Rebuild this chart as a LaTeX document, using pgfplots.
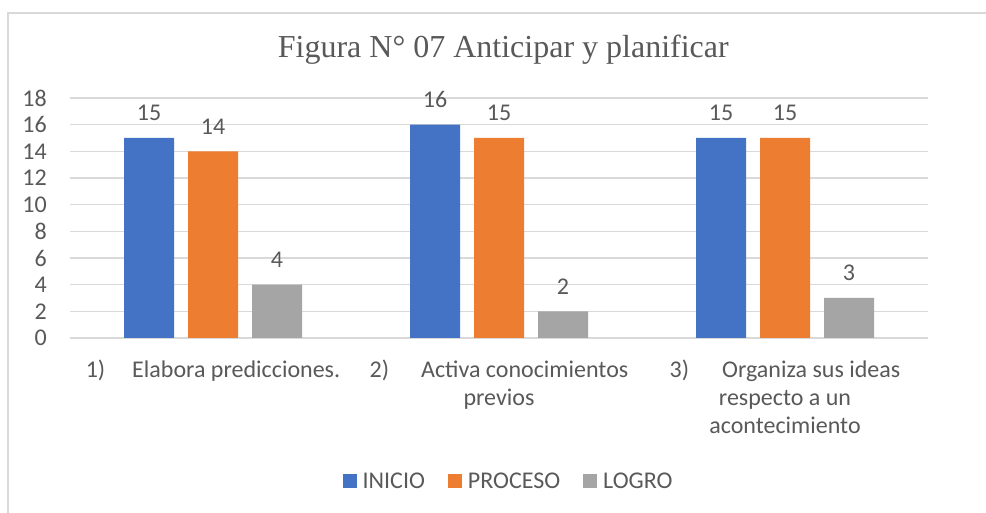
\documentclass[border=0pt]{standalone}
\usepackage{pgfplots}
\pgfplotsset{compat=1.18}
\usepackage{fontspec}
\setmainfont{Carlito}
\newfontfamily\titlefont{Liberation Serif}
\definecolor{txt}{HTML}{595959}
\definecolor{gridc}{HTML}{D9D9D9}
\definecolor{cinicio}{HTML}{4472C4}
\definecolor{cproceso}{HTML}{ED7D31}
\definecolor{clogro}{HTML}{A5A5A5}
\begin{document}
\begin{tikzpicture}
\useasboundingbox (0,0) rectangle (986bp,513bp);
\fill[white] (0,0) rectangle (986bp,513bp);
\draw[gridc, line width=1.2bp] (8bp,0) -- (8bp,500bp) -- (990bp,500bp);
\begin{axis}[
  at={(70bp,175bp)}, anchor=south west,
  scale only axis, width=858bp, height=240bp,
  ybar=14bp, bar width=50bp,
  xmin=-0.5, xmax=2.5, ymin=0, ymax=18,
  ytick={0,2,...,18},
  xtick={0,1,2},
  xticklabels={
    {1)\hspace{27bp}Elabora predicciones.},
    {2)\hspace{32bp}Activa conocimientos\\previos},
    {3)\hspace{33bp}Organiza sus ideas\\respecto a un\\acontecimiento}},
  axis line style={draw=none},
  major tick length=0pt,
  ymajorgrids, grid style={gridc, line width=1.1bp},
  /pgf/number format/assume math mode=true,
  tick label style={font=\fontsize{24bp}{28bp}\selectfont, text=txt},
  yticklabel style={anchor=east, inner sep=0pt, xshift=-23bp},
  xticklabel style={align=center, anchor=north, inner sep=0pt, yshift=-22bp},
  title={\titlefont Figura N° 07 Anticipar y planificar},
  title style={at={(axis description cs:0.505,1.142)}, anchor=base, yshift=0pt,
    font=\fontsize{32bp}{36bp}\selectfont, text=txt},
  nodes near coords,
  every node near coord/.append style={font=\fontsize{24bp}{28bp}\selectfont, text=txt, anchor=base, inner sep=0pt, yshift=17bp},
  legend columns=3,
  legend style={draw=none, fill=none, at={(axis description cs:0.51,-0.596)}, anchor=center,
    font=\fontsize{24bp}{28bp}\selectfont, text=txt,
    nodes={inner sep=0pt, text=txt},
    /tikz/every even column/.append style={column sep=23bp},
    /tikz/every odd column/.append style={column sep=6bp}},
  legend image code/.code={\fill[#1,draw=none] (0bp,-7bp) rectangle (14bp,7bp);},
  enlarge x limits=false,
]
\addplot[fill=cinicio, draw=none] coordinates {(0,15) (1,16) (2,15)};
\addplot[fill=cproceso, draw=none] coordinates {(0,14) (1,15) (2,15)};
\addplot[fill=clogro, draw=none] coordinates {(0,4) (1,2) (2,3)};
\legend{INICIO, PROCESO, LOGRO}
\end{axis}
\end{tikzpicture}
\end{document}
